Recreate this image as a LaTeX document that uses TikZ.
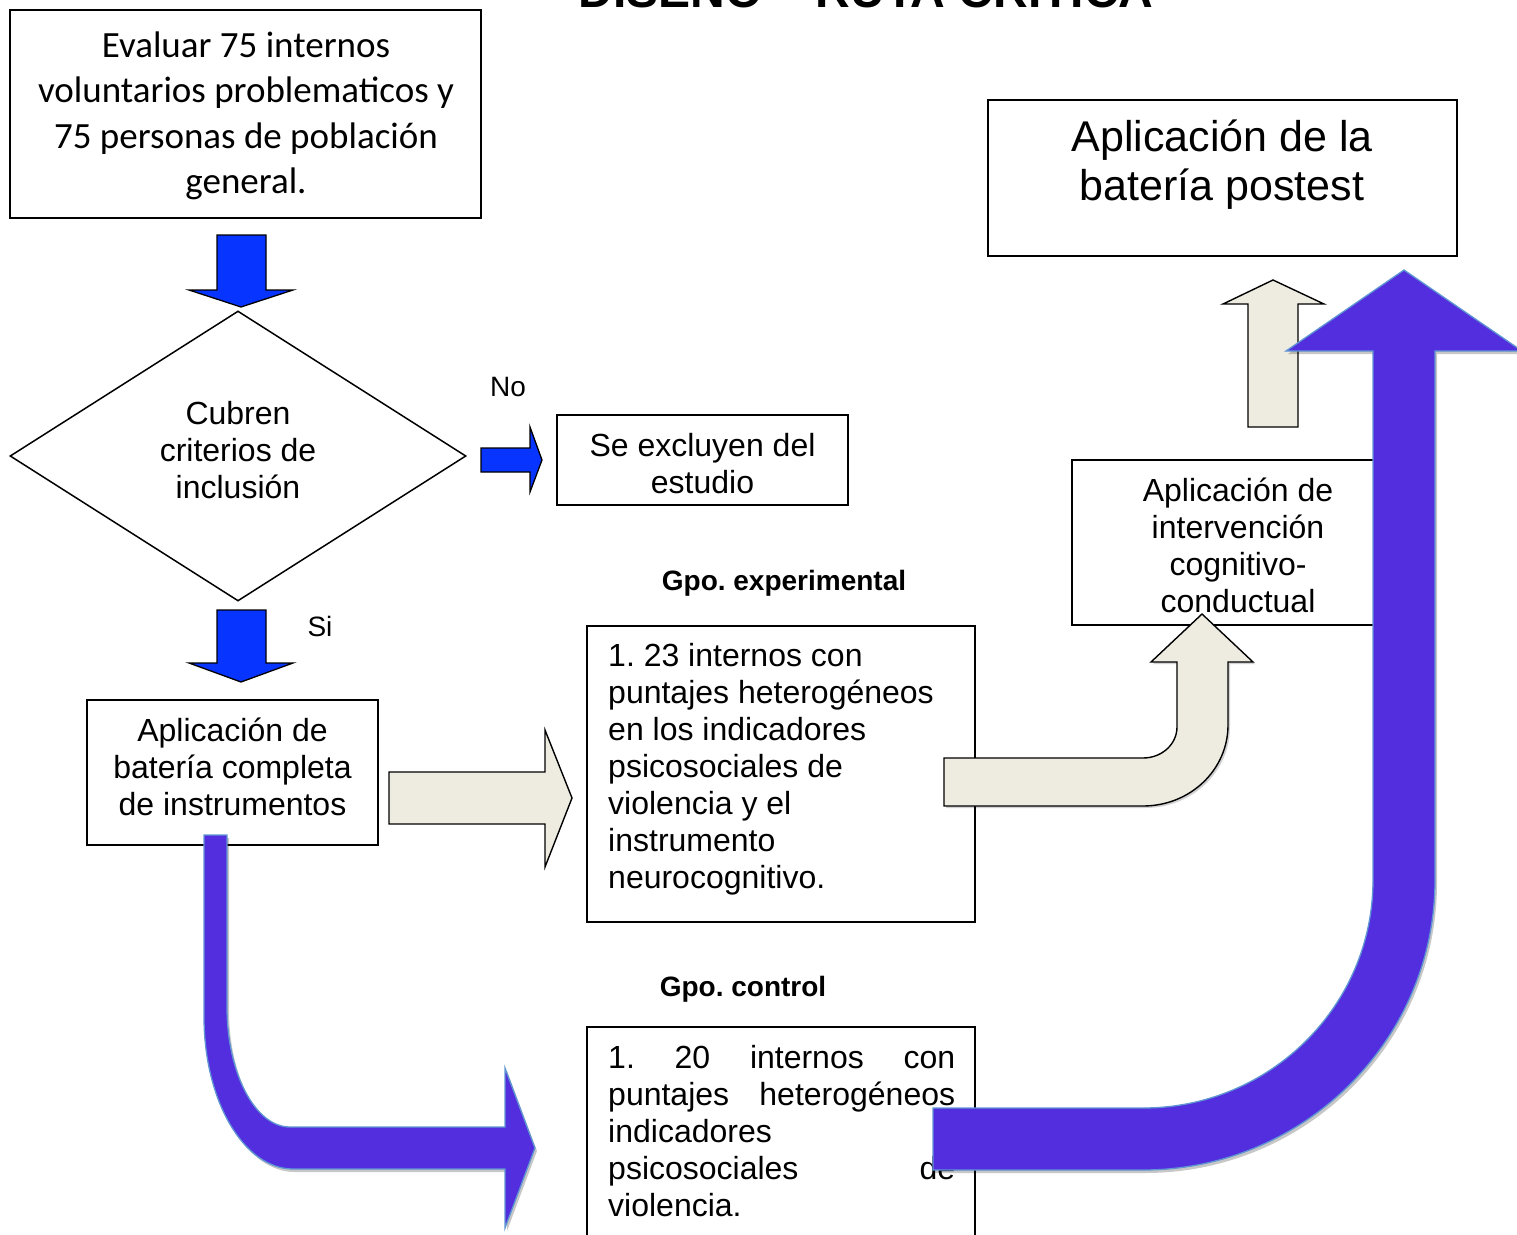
\documentclass[tikz,border=0pt]{standalone}
\usepackage{fontspec}
\newfontfamily\arialf{Liberation Sans}
\newfontfamily\calibrif{Carlito}
\usetikzlibrary{shapes.geometric,shadows}
\definecolor{bluearrow}{RGB}{8,52,255}
\definecolor{beige}{RGB}{238,236,225}
\definecolor{purplearrow}{RGB}{82,46,222}
\definecolor{purpleedge}{RGB}{96,150,210}
\frenchspacing
\begin{document}
\begin{tikzpicture}[x=1pt,y=-1pt,
  box/.style={draw, line width=1.5pt, inner sep=0pt},
  atext/.style={font=\arialf\fontsize{32}{37}\selectfont, align=center, inner sep=0pt,
    execute at begin node=\strut, execute at end node=\strut},
  ctext/.style={font=\calibrif\fontsize{37}{45.5}\selectfont, align=center, inner sep=0pt,
    execute at begin node=\strut, execute at end node=\strut},
  btext/.style={font=\arialf\fontsize{43}{49.5}\selectfont, align=center, inner sep=0pt,
    execute at begin node=\strut, execute at end node=\strut},
  label/.style={font=\arialf\fontsize{28}{32}\selectfont, inner sep=0pt},
  grp/.style={font=\arialf\bfseries\fontsize{28}{32}\selectfont, inner sep=0pt},
  bluearr/.style={fill=bluearrow, draw=black, line width=1.3pt, line join=miter},
  beigearr/.style={fill=beige, draw=black, line width=1.4pt, line join=miter},
  purplearr/.style={fill=purplearrow, draw=purpleedge, line width=1.3pt, line join=miter,
    drop shadow={shadow xshift=2pt, shadow yshift=-3pt, opacity=0.22, fill=black}}
]
\useasboundingbox (0,0) rectangle (1517,1234);

% title (cut off at the top of the page, as in the reference)
\node[font=\arialf\bfseries\fontsize{48}{55}\selectfont, anchor=base, inner sep=0pt] (title) at (866,8) {DISEÑO – RUTA CRÍTICA};

% boxes
\node[box, minimum width=471pt, minimum height=208pt] (evaluar) at (245.5,114) {};
\node[ctext] (evaluar-t) at (246,119.5) {Evaluar 75 internos\\voluntarios problematicos y\\75 personas de población\\general.};

\node[draw, line width=1.5pt, diamond, minimum width=456pt, minimum height=290pt, inner sep=0pt] (criterios) at (238,456) {};
\node[atext] (criterios-t) at (238,455) {Cubren\\criterios de\\inclusión};

\node[label] (no) at (508,387) {No};
\node[label] (si) at (320,626) {Si};

\node[box, minimum width=291pt, minimum height=90pt] (excluyen) at (702.5,460) {};
\node[atext] (excluyen-t) at (702.5,469) {Se excluyen del\\estudio};

\node[box, minimum width=291pt, minimum height=145pt] (bateria) at (232.5,772.5) {};
\node[atext] (bateria-t) at (232.5,772) {Aplicación de\\batería completa\\de instrumentos};

\node[grp] (gexp) at (784,583) {Gpo. experimental};
\node[box, minimum width=388pt, minimum height=296pt] (exper) at (781,774) {};
\node[atext, align=left, anchor=west] (exper-t) at (608,771) {1. 23 internos con\\puntajes heterogéneos\\en los indicadores\\psicosociales de\\violencia y el\\instrumento\\neurocognitivo.};

\node[grp] (gcon) at (743,989) {Gpo. control};
\node[box, minimum width=388pt, minimum height=240pt] (control) at (781,1147) {};
\node[atext, align=left, anchor=west] (control-t) at (608,1136) {\makebox[347pt][s]{1. 20 internos con}\\\makebox[347pt][s]{puntajes heterogéneos}\\indicadores\\\makebox[347pt][s]{psicosociales de}\\violencia.};

\node[box, minimum width=328pt, minimum height=165pt] (interv) at (1236,542.5) {};
\node[atext] (interv-t) at (1238,551) {Aplicación de\\intervención\\cognitivo-\\conductual};

\node[box, minimum width=469pt, minimum height=156pt] (postest) at (1222.5,178) {};
\node[btext] (postest-t) at (1222,167.5) {Aplicación de la\\batería postest};

% blue arrows
\draw[bluearr] (217,235) -- (266,235) -- (266,290) -- (293,290) -- (241,307) -- (189,290) -- (217,290) -- cycle;
\draw[bluearr] (217,610) -- (266,610) -- (266,663) -- (293,663) -- (241,682) -- (189,663) -- (217,663) -- cycle;
\draw[bluearr] (481,448) -- (530,448) -- (530,427) -- (542,460) -- (530,492) -- (530,472) -- (481,472) -- cycle;

% beige arrows
\draw[beigearr] (389,772) -- (545,772) -- (545,730) -- (572,798) -- (545,867) -- (545,824) -- (389,824) -- cycle;
\draw[beigearr, drop shadow={shadow xshift=2pt, shadow yshift=-2pt, opacity=0.18, fill=black}]
  (944,758) -- (1143,758) .. controls (1162,758) and (1177,744) .. (1177,727)
  -- (1177,662) -- (1151,662) -- (1202,614) -- (1253,662) -- (1228,662) -- (1228,725)
  .. controls (1228,770) and (1190,806) .. (1143,806) -- (944,806) -- cycle;
\draw[beigearr] (1248,427) -- (1248,304) -- (1223,304) -- (1273,280) -- (1324,304) -- (1298,304) -- (1298,427) -- cycle;

% purple arrows
\draw[purplearr] (204,835) -- (227,835) -- (227,1007) .. controls (227,1073) and (255,1127) .. (290,1127)
  -- (505,1127) -- (505,1068) -- (535,1148) -- (505,1228) -- (505,1169) -- (293,1169)
  .. controls (244,1169) and (204,1101) .. (204,1017) -- cycle;
\draw[purplearr] (933,1108) -- (1143,1108) .. controls (1270,1108) and (1373,1006) .. (1373,880)
  -- (1373,351) -- (1286,351) -- (1404,270) -- (1522,351) -- (1435,351) -- (1435,880)
  .. controls (1435,1040) and (1304,1170) .. (1143,1170) -- (933,1170) -- cycle;
\end{tikzpicture}
\end{document}
